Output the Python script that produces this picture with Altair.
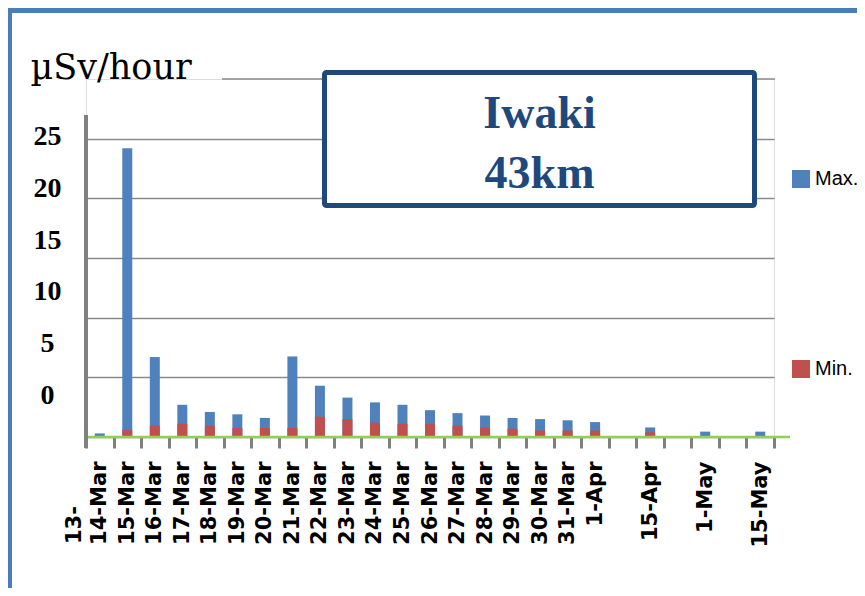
import altair as alt
import pandas as pd

# ---- data ----
categories = ["14-Mar", "15-Mar", "16-Mar", "17-Mar", "18-Mar", "19-Mar", "20-Mar",
              "21-Mar", "22-Mar", "23-Mar", "24-Mar", "25-Mar", "26-Mar", "27-Mar",
              "28-Mar", "29-Mar", "30-Mar", "31-Mar", "1-Apr", "b1", "15-Apr", "b2",
              "1-May", "b3", "15-May"]
bar_dates = ["14-Mar", "15-Mar", "16-Mar", "17-Mar", "18-Mar", "19-Mar", "20-Mar",
             "21-Mar", "22-Mar", "23-Mar", "24-Mar", "25-Mar", "26-Mar", "27-Mar",
             "28-Mar", "29-Mar", "30-Mar", "31-Mar", "1-Apr", "15-Apr", "1-May", "15-May"]
max_vals = [0.3, 24.2, 6.7, 2.7, 2.1, 1.9, 1.6, 6.75, 4.3, 3.3, 2.9, 2.7, 2.25, 2.0,
            1.8, 1.6, 1.5, 1.4, 1.25, 0.8, 0.45, 0.45]
min_vals = [0.05, 0.6, 0.95, 1.1, 0.95, 0.75, 0.75, 0.75, 1.7, 1.5, 1.2, 1.1, 1.1, 0.95,
            0.8, 0.7, 0.55, 0.55, 0.55, 0.4, 0.05, 0.05]
series = ["Max.", "Min."]
colors = ["#4F81BD", "#C0504D"]
y_ticks = [0, 5, 10, 15, 20, 25]
label_shift = [-42, -34, -26, -18, -10, -2]

rows = []
for d, v in zip(bar_dates, max_vals):
    rows.append({"date": d, "series": "Max.", "value": v})
for d, v in zip(bar_dates, min_vals):
    rows.append({"date": d, "series": "Min.", "value": v})
df = pd.DataFrame(rows)

W, H = 688, 358

x_scale = alt.Scale(domain=categories, paddingInner=0, paddingOuter=0)
y_scale = alt.Scale(domain=[0, 30], nice=False)

offset_cond = {
    "condition": [{"test": f"datum.value == {t}", "value": s} for t, s in zip(y_ticks, label_shift)],
    "value": 0,
}

bars = alt.Chart(df).mark_bar(size=10).encode(
    x=alt.X("date:N", scale=x_scale, sort=categories,
            axis=alt.Axis(title=None, domain=False, grid=False, ticks=True, tickBand="extent",
                          tickSize=11, tickWidth=3, tickColor="#808080",
                          labelAngle=270, labelAlign="right", labelBaseline="middle",
                          labelPadding=13, labelFont="DejaVu Sans", labelFontWeight="bold",
                          labelFontSize=21, labelColor="#000000", labelOverlap=False,
                          labelExpr="(datum.value == 'b1' || datum.value == 'b2' || datum.value == 'b3') ? '' : datum.label")),
    y=alt.Y("value:Q", scale=y_scale, stack=None,
            axis=alt.Axis(title="µSv/hour", values=y_ticks, domain=False, ticks=False,
                          grid=True, gridColor="#8a8a8a", gridWidth=1.5,
                          labelAlign="center", labelBaseline="middle", labelPadding=39,
                          labelOffset=offset_cond,
                          labelFont="Liberation Serif", labelFontWeight="bold", labelFontSize=28,
                          labelColor="#000000",
                          titleAngle=0, titleAlign="left", titleBaseline="alphabetic",
                          titleX=-56, titleY=-1, titleFont="DejaVu Serif",
                          titleFontWeight="normal", titleFontSize=35, titleColor="#000000")),
    color=alt.Color("series:N", scale=alt.Scale(domain=series, range=colors),
                    legend=alt.Legend(title=None, orient="none", legendX=705, legendY=90,
                                      symbolType="square", symbolSize=324, symbolStrokeWidth=0,
                                      labelFont="Liberation Sans", labelFontSize=20,
                                      labelColor="#000000", labelOffset=4, rowPadding=170,
                                      padding=0)),
)

# top (30) gridline, only partly visible
grid30 = alt.Chart(pd.DataFrame({"v": [30]})).mark_rule(color="#8a8a8a", strokeWidth=1.5).encode(
    y=alt.Y("v:Q", scale=y_scale), x=alt.value(136), x2=alt.value(689))

# green baseline, grey y-axis line
base = alt.Chart(pd.DataFrame({"v": [0]})).mark_rule(color="#92D050", strokeWidth=2.5).encode(
    y=alt.Y("v:Q", scale=y_scale), x=alt.value(0), x2=alt.value(704))
yline = alt.Chart(pd.DataFrame({"v": [0]})).mark_rule(color="#808080", strokeWidth=4).encode(
    x=alt.value(0), y=alt.value(36), y2=alt.value(369))

# title box
box = alt.Chart(pd.DataFrame({"v": [0]})).mark_rect(
    fill="white", stroke="#1F497D", strokeWidth=5, cornerRadius=2).encode(
    x=alt.value(238.5), x2=alt.value(668.5), y=alt.value(-6.5), y2=alt.value(126.5))
t1 = alt.Chart(pd.DataFrame({"t": ["Iwaki"]})).mark_text(
    font="Liberation Serif", fontWeight="bold", fontSize=46, color="#1F497D",
    align="center", baseline="alphabetic").encode(text="t:N", x=alt.value(453.5), y=alt.value(49))
t2 = alt.Chart(pd.DataFrame({"t": ["43km"]})).mark_text(
    font="Liberation Serif", fontWeight="bold", fontSize=46, color="#1F497D",
    align="center", baseline="alphabetic").encode(text="t:N", x=alt.value(453.5), y=alt.value(109))

# clipped first label
t13 = alt.Chart(pd.DataFrame({"t": ["13-"]})).mark_text(
    font="DejaVu Sans", fontWeight="bold", fontSize=21, color="#000000", angle=270,
    align="left", baseline="middle").encode(text="t:N", x=alt.value(-11), y=alt.value(465))

# slide frame
frame_top = alt.Chart(pd.DataFrame({"v": [0]})).mark_rule(color="#4A7EBB", strokeWidth=5).encode(
    x=alt.value(-78), x2=alt.value(779), y=alt.value(-68.5))
frame_left = alt.Chart(pd.DataFrame({"v": [0]})).mark_rule(color="#4A7EBB", strokeWidth=5).encode(
    x=alt.value(-76.5), y=alt.value(-71), y2=alt.value(517))
dash = alt.Chart(pd.DataFrame({"v": [0]})).mark_rule(color="#1F497D", strokeWidth=4).encode(
    x=alt.value(771), x2=alt.value(779), y=alt.value(224))

chart = alt.layer(grid30, bars, base, yline, box, t1, t2, t13, frame_top, frame_left, dash).properties(
    width=W, height=H,
    autosize=alt.AutoSizeParams(type="none"),
    padding={"left": 78, "top": 71, "right": 83, "bottom": 151},
).configure_view(stroke=None).configure(background="white")

chart.save("out.html", embed_options={"renderer": "svg", "actions": False})
